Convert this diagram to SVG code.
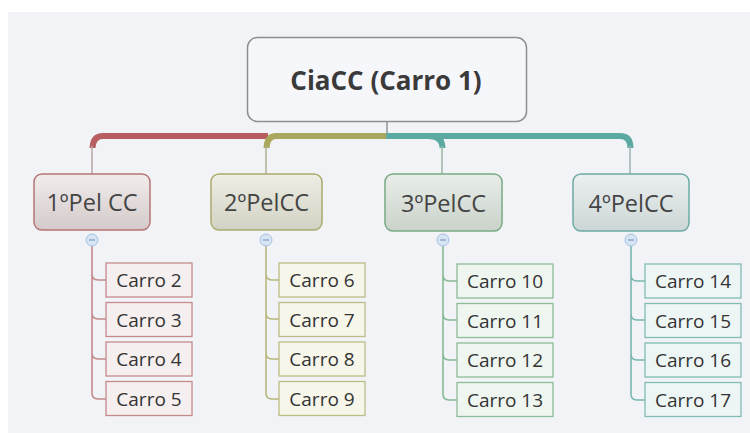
<svg xmlns="http://www.w3.org/2000/svg" width="750" height="433" viewBox="0 0 750 433">
<defs>
<linearGradient id="g1" x1="0" y1="0" x2="0" y2="1"><stop offset="0" stop-color="#f1ecec"/><stop offset="1" stop-color="#d4caca"/></linearGradient>
<linearGradient id="g2" x1="0" y1="0" x2="0" y2="1"><stop offset="0" stop-color="#eeeee4"/><stop offset="1" stop-color="#d2d2c4"/></linearGradient>
<linearGradient id="g3" x1="0" y1="0" x2="0" y2="1"><stop offset="0" stop-color="#e9eee9"/><stop offset="1" stop-color="#cad2ca"/></linearGradient>
<linearGradient id="g4" x1="0" y1="0" x2="0" y2="1"><stop offset="0" stop-color="#ebf0f0"/><stop offset="1" stop-color="#cdd6d6"/></linearGradient>
</defs>
<style>
text{font-family:"Open Sans","Noto Sans",sans-serif;fill:#333;text-anchor:middle;dominant-baseline:central}
.root{font-size:26px;font-weight:bold;fill:#3a3a3a}
.main{font-size:23.5px;fill:#444}
.sub{font-size:19px;fill:#333}
.bar{fill:none;stroke-width:6;stroke-linecap:butt}
.thin{fill:none;stroke-width:1.6}
.tog{fill:#d6e4f4;stroke:#a6c2e2;stroke-width:1}
.minus{stroke:#7f9cc0;stroke-width:1.2}
</style>
<rect x="0" y="0" width="750" height="433" fill="#ffffff"/>
<rect x="8" y="12" width="742" height="421" fill="#f2f3f7"/>

<g id="connectors">
  <line x1="387" y1="121" x2="387" y2="134" stroke="#9a9a9a" stroke-width="1.6"/>
  <path class="bar" stroke="#b65e60" d="M268 136 H103 Q93 136 92.5 148"/>
  <path class="bar" stroke="#a9a85c" d="M387 136 H276 Q267 136 266.5 148"/>
  <path class="bar" stroke="#5aaaa2" d="M386 136 H620 Q630.5 136 630.5 148"/>
  <path class="bar" stroke="#5aaaa2" d="M428 136 Q442.5 136 442.5 148"/>
  <line class="thin" stroke="#b8a9a9" x1="92" y1="146" x2="92" y2="174"/>
  <line class="thin" stroke="#b3b39c" x1="266" y1="146" x2="266" y2="174"/>
  <line class="thin" stroke="#9fb8a8" x1="442" y1="146" x2="442" y2="174"/>
  <line class="thin" stroke="#9fb8b6" x1="630" y1="146" x2="630" y2="174"/>

  <path class="thin" stroke="#c48a8c" d="M92 246 V393 Q92 399 98 399 H106 M92 274 Q92 280 98 280 H106 M92 313 Q92 319 98 319 H106 M92 353 Q92 359 98 359 H106"/>
  <path class="thin" stroke="#b8b87c" d="M266 246 V393 Q266 399 272 399 H279 M266 274 Q266 280 272 280 H279 M266 313 Q266 319 272 319 H279 M266 353 Q266 359 272 359 H279"/>
  <path class="thin" stroke="#86b894" d="M443 246 V394 Q443 400 449 400 H457 M443 275 Q443 281 449 281 H457 M443 314 Q443 320 449 320 H457 M443 354 Q443 360 449 360 H457"/>
  <path class="thin" stroke="#7ab8b0" d="M631 246 V394 Q631 400 637 400 H645 M631 275 Q631 281 637 281 H645 M631 314 Q631 320 637 320 H645 M631 354 Q631 360 637 360 H645"/>
</g>

<g id="root">
  <rect x="247.5" y="37.5" width="279" height="84" rx="10" fill="#f6f7fa" stroke="#8e8e8e" stroke-width="1.5"/>
  <text class="root" x="386" y="80">CiaCC (Carro 1)</text>
</g>

<g id="n1">
  <rect x="34" y="174" width="116" height="56" rx="8" fill="url(#g1)" stroke="#b87476" stroke-width="1.5"/>
  <text class="main" x="92" y="202">1ºPel CC</text>
  <circle class="tog" cx="92" cy="240" r="6"/><line class="minus" x1="89" y1="240" x2="95" y2="240"/>
</g>
<g id="n2">
  <rect x="211" y="174" width="111" height="56" rx="8" fill="url(#g2)" stroke="#abab6c" stroke-width="1.5"/>
  <text class="main" x="266.5" y="202">2ºPelCC</text>
  <circle class="tog" cx="266" cy="240" r="6"/><line class="minus" x1="263" y1="240" x2="269" y2="240"/>
</g>
<g id="n3">
  <rect x="385" y="174" width="117" height="57" rx="8" fill="url(#g3)" stroke="#78aa84" stroke-width="1.5"/>
  <text class="main" x="443.5" y="202.5">3ºPelCC</text>
  <circle class="tog" cx="443" cy="240" r="6"/><line class="minus" x1="440" y1="240" x2="446" y2="240"/>
</g>
<g id="n4">
  <rect x="573" y="174" width="116" height="57" rx="8" fill="url(#g4)" stroke="#6eaaa4" stroke-width="1.5"/>
  <text class="main" x="631" y="202.5">4ºPelCC</text>
  <circle class="tog" cx="631" cy="240" r="6"/><line class="minus" x1="628" y1="240" x2="634" y2="240"/>
</g>

<g id="c2"><rect x="106" y="263" width="86" height="34" fill="#f6efef" stroke="#c48a8c" stroke-width="1.3"/><text class="sub" x="149" y="280">Carro 2</text></g>
<g id="c3"><rect x="106" y="302.5" width="86" height="34" fill="#f6efef" stroke="#c48a8c" stroke-width="1.3"/><text class="sub" x="149" y="319.5">Carro 3</text></g>
<g id="c4"><rect x="106" y="342" width="86" height="34" fill="#f6efef" stroke="#c48a8c" stroke-width="1.3"/><text class="sub" x="149" y="359">Carro 4</text></g>
<g id="c5"><rect x="106" y="381.5" width="86" height="34" fill="#f6efef" stroke="#c48a8c" stroke-width="1.3"/><text class="sub" x="149" y="398.5">Carro 5</text></g>

<g id="c6"><rect x="279" y="263" width="86" height="34" fill="#f6f6ea" stroke="#bcbc86" stroke-width="1.3"/><text class="sub" x="322" y="280">Carro 6</text></g>
<g id="c7"><rect x="279" y="302.5" width="86" height="34" fill="#f6f6ea" stroke="#bcbc86" stroke-width="1.3"/><text class="sub" x="322" y="319.5">Carro 7</text></g>
<g id="c8"><rect x="279" y="342" width="86" height="34" fill="#f6f6ea" stroke="#bcbc86" stroke-width="1.3"/><text class="sub" x="322" y="359">Carro 8</text></g>
<g id="c9"><rect x="279" y="381.5" width="86" height="34" fill="#f6f6ea" stroke="#bcbc86" stroke-width="1.3"/><text class="sub" x="322" y="398.5">Carro 9</text></g>

<g id="c10"><rect x="457" y="264" width="96" height="34" fill="#eff6f0" stroke="#8cbc98" stroke-width="1.3"/><text class="sub" x="505" y="281">Carro 10</text></g>
<g id="c11"><rect x="457" y="303.5" width="96" height="34" fill="#eff6f0" stroke="#8cbc98" stroke-width="1.3"/><text class="sub" x="505" y="320.5">Carro 11</text></g>
<g id="c12"><rect x="457" y="343" width="96" height="34" fill="#eff6f0" stroke="#8cbc98" stroke-width="1.3"/><text class="sub" x="505" y="360">Carro 12</text></g>
<g id="c13"><rect x="457" y="382.5" width="96" height="34" fill="#eff6f0" stroke="#8cbc98" stroke-width="1.3"/><text class="sub" x="505" y="399.5">Carro 13</text></g>

<g id="c14"><rect x="645" y="264" width="96" height="34" fill="#eef6f5" stroke="#80bcb4" stroke-width="1.3"/><text class="sub" x="693" y="281">Carro 14</text></g>
<g id="c15"><rect x="645" y="303.5" width="96" height="34" fill="#eef6f5" stroke="#80bcb4" stroke-width="1.3"/><text class="sub" x="693" y="320.5">Carro 15</text></g>
<g id="c16"><rect x="645" y="343" width="96" height="34" fill="#eef6f5" stroke="#80bcb4" stroke-width="1.3"/><text class="sub" x="693" y="360">Carro 16</text></g>
<g id="c17"><rect x="645" y="382.5" width="96" height="34" fill="#eef6f5" stroke="#80bcb4" stroke-width="1.3"/><text class="sub" x="693" y="399.5">Carro 17</text></g>
</svg>
